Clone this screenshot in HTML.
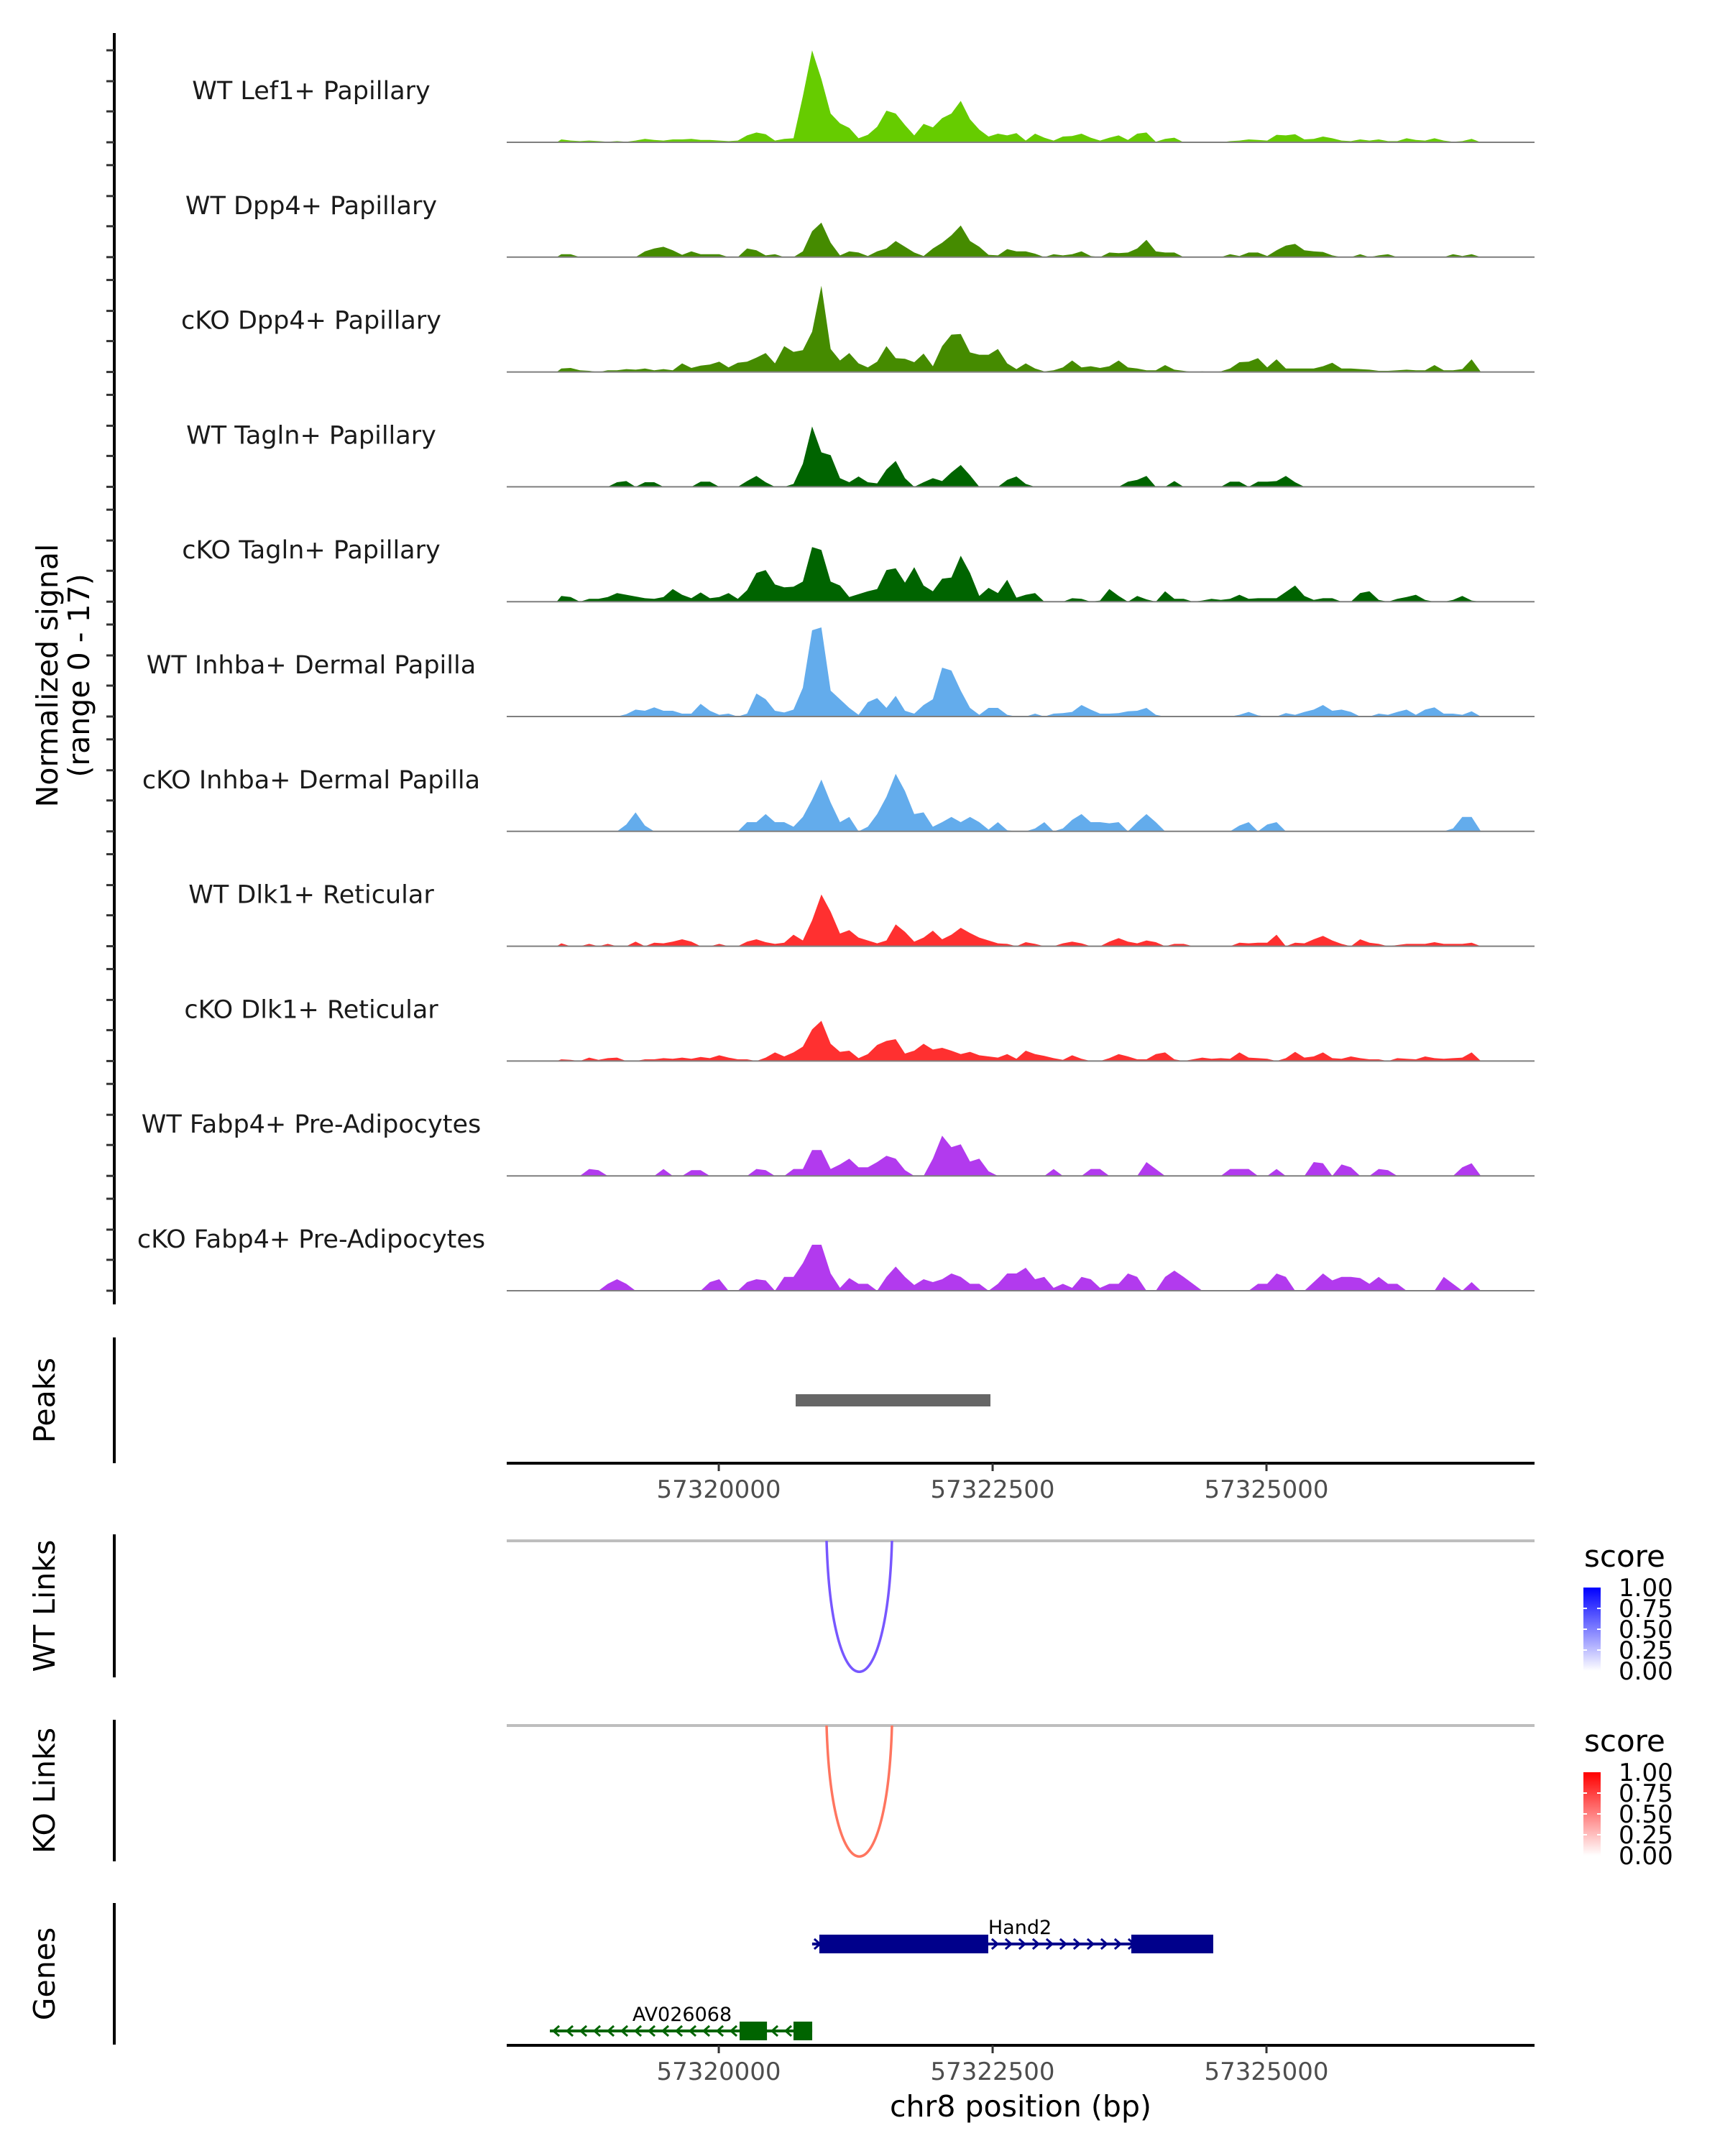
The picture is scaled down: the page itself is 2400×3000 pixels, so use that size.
<!DOCTYPE html>
<html><head><meta charset="utf-8"><style>
html,body{margin:0;padding:0;background:#fff}
svg{display:block}
text{font-family:"DejaVu Sans","Liberation Sans",sans-serif}
</style></head><body>
<svg id="chart" width="2400" height="3000" viewBox="0 0 2400 3000" xmlns="http://www.w3.org/2000/svg">
<g id="tracks"></g>
<g id="rest"></g>
</svg>
<script>
const trackNames = ["WT Lef1+ Papillary","WT Dpp4+ Papillary","cKO Dpp4+ Papillary","WT Tagln+ Papillary","cKO Tagln+ Papillary","WT Inhba+ Dermal Papilla","cKO Inhba+ Dermal Papilla","WT Dlk1+ Reticular","cKO Dlk1+ Reticular","WT Fabp4+ Pre-Adipocytes","cKO Fabp4+ Pre-Adipocytes"];
const trackColors = ["#66CC00","#458B00","#458B00","#006400","#006400","#63ACEC","#63ACEC","#FF3030","#FF3030","#B23AEE","#B23AEE"];
const binStartBp = 57318520;
const binWidthBp = 84.8;
const sigLef1WT = [0.5,0.3,0.2,0.3,0.2,0.1,0.2,0.1,0.3,0.6, 0.4,0.3,0.5,0.5,0.6,0.4,0.4,0.3,0.2,0.3, 1.2,1.7,1.4,0.3,0.6,0.7,8,16,11,5, 3.3,2.5,0.7,1.3,2.7,5.5,5,3,1.2,3.2, 2.6,4.2,5,7.2,4,2.2,1,1.5,1.2,1.6, 0.3,1.5,0.8,0.3,1,1.1,1.5,0.8,0.3,0.8, 1.2,0.4,1.5,1.7,0.1,0.6,0.8,0,0,0, 0,0,0.2,0.3,0.5,0.4,0.3,1.3,1.2,1.4, 0.5,0.6,1,0.7,0.3,0.2,0.5,0.3,0.5,0.2, 0.2,0.7,0.4,0.3,0.7,0.3,0.1,0.2,0.6,0];
const sigDpp4WT = [0.5,0.5,0,0,0,0,0,0,0,1, 1.5,1.8,1.2,0.4,1,0.5,0.5,0.5,0,0, 1.5,1.2,0.3,0.5,0,0,1,4.5,6,2.5, 0.3,1,0.8,0.2,1,1.5,2.8,1.8,0.8,0.2, 1.5,2.5,3.8,5.5,2.8,1.8,0.4,0.3,1.4,1, 1,0.6,0,0.5,0.3,0.5,1,0.2,0,0.8, 0.7,0.8,1.5,3,1,0.8,0.8,0,0,0, 0,0,0.5,0.2,0.8,0.8,0.2,1.2,2,2.3, 1.2,1,0.9,0.3,0,0,0.5,0,0.3,0.5, 0,0,0,0,0,0,0.5,0.2,0.5,0];
const sigDpp4KO = [0.6,0.7,0.3,0.2,0,0.3,0.3,0.5,0.4,0.6, 0.3,0.5,0.3,1.5,0.7,1.1,1.3,1.8,0.8,1.6, 1.8,2.5,3.3,1.5,4.5,3.5,3.8,7,15,4, 2,3.3,1.5,0.8,1.8,4.5,2.4,2.3,1.7,3.2, 1,4.5,6.5,6.6,3.4,3,3,4,1.5,0.5, 1.5,0.6,0.1,0.3,0.8,2,0.8,1,0.7,1, 2,0.8,0.6,0.3,0.3,1.2,0.4,0.2,0,0.1, 0,0.1,0.6,1.7,1.8,2.4,0.8,2.2,0.6,0.6, 0.6,0.6,1,1.6,0.6,0.6,0.5,0.4,0.2,0.2, 0.3,0.4,0.3,0.3,1.2,0.3,0.3,0.5,2.2,0];
const sigTaglnWT = [0,0,0,0,0,0,0.8,1,0,0.8, 0.8,0,0,0,0,0.9,0.9,0,0,0, 1,1.9,0.8,0,0,0.5,4,10.5,6,5.5, 1.5,0.8,1.8,0.8,0.6,3,4.5,1.5,0,0.8, 1.5,1,2.5,3.8,2,0,0,0,1.2,1.8, 0.5,0,0,0,0,0,0,0,0,0, 0,0.9,1.2,1.9,0,0,1,0,0,0, 0,0,0.9,0.9,0,0.9,0.9,1,1.9,0.8, 0,0,0,0,0,0,0,0,0,0, 0,0,0,0,0,0,0,0,0,0];
const sigTaglnKO = [1,0.8,0,0.5,0.5,0.8,1.5,1.2,0.9,0.6, 0.5,0.8,2.2,1.2,0.6,1.6,0.6,0.8,1.5,0.5, 2,5,5.5,3,2.5,2.6,3.5,9.5,9,3.5, 2.8,0.8,1.3,1.8,2.2,5.5,5.8,3.3,6,2.8, 1.8,4,4.2,8,5,1,2.4,1.5,3.8,0.7, 1.2,1.5,0,0,0,0.6,0.5,0,0.2,2.2, 1,0,1,0.4,0,1.8,0.5,0.5,0,0.2, 0.5,0.3,0.5,1.2,0.5,0.6,0.6,0.6,1.7,2.8, 1,0.3,0.6,0.6,0,0,1.5,1.8,0.3,0, 0.5,0.8,1.2,0.3,0,0,0.3,1,0.2,0];
const sigInhbaWT = [0,0,0,0,0,0,0,0.4,1.2,1, 1.6,1,1,0.5,0.5,2.2,1,0.3,0.5,0, 0.5,4,3,1,0.7,1.2,5,15,15.5,4.5, 3,1.5,0.3,2.5,3.2,1.5,3.6,1,0.5,2, 3,8.5,8,4.5,1.5,0.3,1.5,1.5,0.3,0, 0,0.5,0,0.5,0.6,0.8,2,1.2,0.5,0.5, 0.6,0.9,1,1.5,0.3,0,0,0,0,0, 0,0,0,0.3,0.8,0.2,0,0,0.6,0.3, 0.8,1.2,2,1,1.2,0.8,0,0,0.5,0.3, 0.8,1.2,0.3,1.2,1.6,0.5,0.5,0.3,0.9,0];
const sigInhbaKO = [0,0,0,0,0,0,0,1.2,3.3,1, 0,0,0,0,0,0,0,0,0,0, 1.6,1.6,3,1.6,1.6,0.8,2.5,5.5,9,5, 1.6,2.5,0,0.8,3,6,10,7,3,3.3, 0.8,1.6,2.5,1.6,2.5,1.6,0.3,1.6,0.2,0, 0,0.5,1.6,0,0.5,2,3,1.6,1.6,1.4, 1.6,0,1.6,3,1.6,0,0,0,0,0, 0,0,0,1,1.6,0,1.2,1.6,0,0, 0,0,0,0,0,0,0,0,0,0, 0,0,0,0,0,0,0.5,2.5,2.5,0];
const sigDlk1WT = [0.5,0,0,0.4,0,0.4,0,0,0.8,0, 0.6,0.5,0.8,1.2,0.8,0,0,0.4,0,0, 0.8,1.2,0.7,0.4,0.6,2,1,4.5,9,6, 2.2,2.8,1.5,1,0.5,1,3.8,2.5,0.8,1.5, 2.7,1.2,2,3.2,2.3,1.5,1,0.5,0.4,0, 0.7,0.4,0,0,0.5,0.8,0.5,0,0,0.8, 1.4,0.8,0.5,1,0.7,0,0.4,0.4,0,0, 0,0,0,0.6,0.5,0.6,0.6,2,0,0.6, 0.5,1.2,1.8,1,0.4,0,1.2,0.6,0.4,0, 0.2,0.4,0.4,0.4,0.7,0.4,0.4,0.4,0.6,0];
const sigDlk1KO = [0.3,0.2,0,0.6,0.2,0.5,0.6,0,0,0.3, 0.3,0.5,0.4,0.6,0.4,0.7,0.5,1,0.6,0.3, 0.3,0,0.6,1.5,0.8,1.5,2.5,5.5,7,3, 1.6,1.8,0.5,1.2,2.8,3.5,3.8,1.3,1.8,3, 2,2.3,1.8,1.2,1.6,1,0.8,0.6,1.2,0.4, 1.8,1.2,0.9,0.5,0.2,1,0.4,0,0,0.5, 1.2,0.8,0.3,0.3,1.2,1.5,0.3,0,0.3,0.6, 0.4,0.5,0.4,1.5,0.6,0.5,0.4,0,0.5,1.6, 0.6,0.8,1.5,0.5,0.4,0.8,0.5,0.3,0.3,0, 0.5,0.4,0.3,0.8,0.5,0.4,0.5,0.6,1.5,0];
const sigFabp4WT = [0,0,0,1.2,1,0,0,0,0,0, 0,1.2,0,0,1,1,0,0,0,0, 0,1.2,1,0,0,1.2,1.2,4.5,4.5,1.2, 2,3,1.5,1.5,2.4,3.5,3,1,0,0, 3,7,5,5.5,2.5,3,0.8,0,0,0, 0,0,0,1.2,0,0,0,1.2,1.2,0, 0,0,0,2.4,1.2,0,0,0,0,0, 0,0,1.2,1.2,1.2,0,0,1.2,0,0, 0,2.4,2.2,0,2,1.5,0,0,1.2,1, 0,0,0,0,0,0,0,1.5,2.2,0];
const sigFabp4KO = [0,0,0,0,0,1.2,2,1.2,0,0, 0,0,0,0,0,0,1.5,2,0,0, 1.5,2,1.8,0,2.4,2.4,4.8,8,8,3, 0.5,2.2,1.2,1.2,0,2.4,4.2,2.4,1,2, 1.5,2,3,2.4,1.2,1.2,0,1.2,3,3, 4,2,2.4,0.5,1.2,0.5,2.4,2,0.5,1.2, 1.2,3,2.4,0,0,2.4,3.5,2.4,1.2,0, 0,0,0,0,0,1.2,1.2,3,2.4,0, 0,1.5,3,1.8,2.4,2.4,2.2,1.2,2.4,1.2, 1.2,0,0,0,0,2.4,1.2,0,1.5,0];
const signals = [sigLef1WT,sigDpp4WT,sigDpp4KO,sigTaglnWT,sigTaglnKO,sigInhbaWT,sigInhbaKO,sigDlk1WT,sigDlk1KO,sigFabp4WT,sigFabp4KO];
const xTickValues = [57320000,57322500,57325000];
const xTickLabels = ["57320000","57322500","57325000"];
const peakStart = [57320702];
const peakEnd = [57322480];
const wtLinkStart = [57320984], wtLinkEnd = [57321581], wtLinkScore = [0.75];
const koLinkStart = [57320984], koLinkEnd = [57321581], koLinkScore = [0.7];
const legendTicks = ["1.00","0.75","0.50","0.25","0.00"];
const hand2Exons = [[57320918,57322460],[57323766,57324514]];
const hand2Span = [57320852,57324514];
const av026068Exons = [[57320190,57320440],[57320682,57320853]];
const av026068Span = [57318458,57320853];

const NS = "http://www.w3.org/2000/svg";
const X0 = 705, X1 = 2135, BP0 = 57318064, PXPERBP = 381/2500;
function xScale(bp){ return X0 + (bp - BP0) * PXPERBP; }
const BASE0 = 198, TRACK_STEP = 159.8, YUNIT = 8;
function yScale(v, i){ return BASE0 + TRACK_STEP*i - v*YUNIT; }
function el(tag, attrs, parent){ const e=document.createElementNS(NS,tag); for(const k in attrs) e.setAttribute(k,attrs[k]); parent.appendChild(e); return e; }

const tracks = document.getElementById('tracks');
const rest = document.getElementById('rest');

let ax = el('line',{x1:159,y1:46,x2:159,y2:1815,stroke:'#000','stroke-width':4},tracks);


signals.forEach((sig,i)=>{
  const base = BASE0 + TRACK_STEP*i;
  [0,43,85,128].forEach(off=>{
    const t = el('line',{x1:148,y1:base-off,x2:159,y2:base-off,stroke:'#333','stroke-width':3},tracks);
    
    
  });
  const lab = el('text',{x:433,y:base-60,'font-size':35,fill:'#1a1a1a','text-anchor':'middle'},tracks);
  lab.textContent = trackNames[i];
  
  
  let d = 'M' + xScale(binStartBp).toFixed(1) + ' ' + base;
  sig.forEach((v,k)=>{
    const bp = binStartBp + binWidthBp*(k+0.5);
    d += ' L' + xScale(bp).toFixed(1) + ' ' + yScale(v,i).toFixed(1);
  });
  d += ' L' + xScale(binStartBp + binWidthBp*sig.length).toFixed(1) + ' ' + base + ' Z';
  const area = el('path',{d:d,fill:trackColors[i]},tracks);
  
  
  const bl = el('line',{x1:X0,y1:base,x2:X1,y2:base,stroke:'#7f7f7f','stroke-width':2},tracks);
  
  
});
const yt = el('text',{transform:'translate(80,940) rotate(-90)','font-size':41,fill:'#000','text-anchor':'middle'},tracks);
yt.textContent = 'Normalized signal';


const yt2 = el('text',{transform:'translate(124,940) rotate(-90)','font-size':41,fill:'#000','text-anchor':'middle'},tracks);
yt2.textContent = '(range 0 - 17)';



function sideTitle(txt, y0, y1, name){
  const l = el('line',{x1:159,y1:y0,x2:159,y2:y1,stroke:'#000','stroke-width':4},rest);
  
  
  const t = el('text',{transform:'translate(76,'+((y0+y1)/2)+') rotate(-90)','font-size':41,fill:'#000','text-anchor':'middle'},rest);
  t.textContent = txt;
  
  
}
sideTitle('Peaks',1861,2036,'peaks');
sideTitle('WT Links',2135,2334,'wt-links');
sideTitle('KO Links',2393,2590,'ko-links');
sideTitle('Genes',2648,2845,'genes');

peakStart.forEach((s,i)=>{
  const r = el('rect',{x:xScale(s),y:1940,width:xScale(peakEnd[i])-xScale(s),height:17,fill:'#666'},rest);
  
  
});
function xAxis(y, name){
  const l = el('line',{x1:X0,y1:y,x2:X1,y2:y,stroke:'#000','stroke-width':4},rest);
  
  
  xTickValues.forEach((v,i)=>{
    const x = xScale(v);
    const t = el('line',{x1:x,y1:y,x2:x,y2:y+11,stroke:'#333','stroke-width':3},rest);
    
    
    const tl = el('text',{x:x,y:y+48,'font-size':34,fill:'#4d4d4d','text-anchor':'middle'},rest);
    tl.textContent = xTickLabels[i];
    
    
  });
}
xAxis(2036,'peaks-x-axis');
xAxis(2846,'genes-x-axis');
const xt = el('text',{x:1420,y:2945,'font-size':41,fill:'#000','text-anchor':'middle'},rest);
xt.textContent = 'chr8 position (bp)';



const defs = el('defs',{},rest);
function grad(id, col){
  const g = el('linearGradient',{id:id,x1:0,y1:1,x2:0,y2:0},defs);
  el('stop',{offset:'0','stop-color':'#ffffff'},g);
  el('stop',{offset:'1','stop-color':col},g);
}
grad('gwt','#0000ff'); grad('gko','#ff0000');
function mix(col, s){ const c=[parseInt(col.slice(1,3),16),parseInt(col.slice(3,5),16),parseInt(col.slice(5,7),16)]; return 'rgb('+c.map(v=>Math.round(255+(v-255)*s)).join(',')+')'; }
function linkPanel(top, starts, ends, scores, col, name, gid){
  const gl = el('line',{x1:X0,y1:top,x2:X1,y2:top,stroke:'#bebebe','stroke-width':4},rest);
  
  
  starts.forEach((s,i)=>{
    const a=xScale(s), b=xScale(ends[i]);
    const c = top + 243;
    const p = el('path',{d:'M'+a+' '+top+' C'+(a+7)+' '+c+' '+(b-7)+' '+c+' '+b+' '+top,fill:'none',stroke:mix(col,scores[i]),'stroke-width':3.5},rest);
    
    
  });
  const st = el('text',{x:2204,y:top+36,'font-size':42,fill:'#000'},rest);
  st.textContent = 'score';
  
  
  const bar = el('rect',{x:2203,y:top+65,width:24,height:116,fill:'url(#'+gid+')'},rest);
  
  
  legendTicks.forEach((t,j)=>{
    const yy = top + 65 + j*29;
    if(j>0 && j<4){ el('line',{x1:2203,y1:yy,x2:2208,y2:yy,stroke:'#fff','stroke-width':2},rest); el('line',{x1:2222,y1:yy,x2:2227,y2:yy,stroke:'#fff','stroke-width':2},rest); }
    const tx = el('text',{x:2252,y:yy+12,'font-size':34,fill:'#000'},rest);
    tx.textContent = t;
    
    
  });
}
linkPanel(2144, wtLinkStart, wtLinkEnd, wtLinkScore, '#4a1fff', 'wt-links','gwt');
linkPanel(2401, koLinkStart, koLinkEnd, koLinkScore, '#ff3a1a', 'ko-links','gko');

function gene(span, exons, y, col, label, lx, ly, dir, name){
  const l = el('line',{x1:xScale(span[0]),y1:y,x2:xScale(span[1]),y2:y,stroke:col,'stroke-width':4},rest);
  
  
  const a=xScale(span[0]), b=xScale(span[1]);
  for(let x=a+8; x<b-4; x+=19){
    const p = dir>0 ? 'M'+(x-5)+' '+(y-7)+' L'+(x+3)+' '+y+' L'+(x-5)+' '+(y+7) : 'M'+(x+5)+' '+(y-7)+' L'+(x-3)+' '+y+' L'+(x+5)+' '+(y+7);
    el('path',{d:p,fill:'none',stroke:col,'stroke-width':3},rest);
  }
  exons.forEach(e=>{
    const r = el('rect',{x:xScale(e[0]),y:y-13,width:xScale(e[1])-xScale(e[0]),height:26,fill:col},rest);
    
    
  });
  const t = el('text',{x:lx,y:ly,'font-size':27,fill:'#000','text-anchor':'middle'},rest);
  t.textContent = label;
  
  
}
gene(hand2Span, hand2Exons, 2705, '#00008B', 'Hand2', 1419, 2691, 1, 'hand2');
gene(av026068Span, av026068Exons, 2826, '#006400', 'AV026068', 949, 2812, -1, 'av026068');
</script>
</body></html>
